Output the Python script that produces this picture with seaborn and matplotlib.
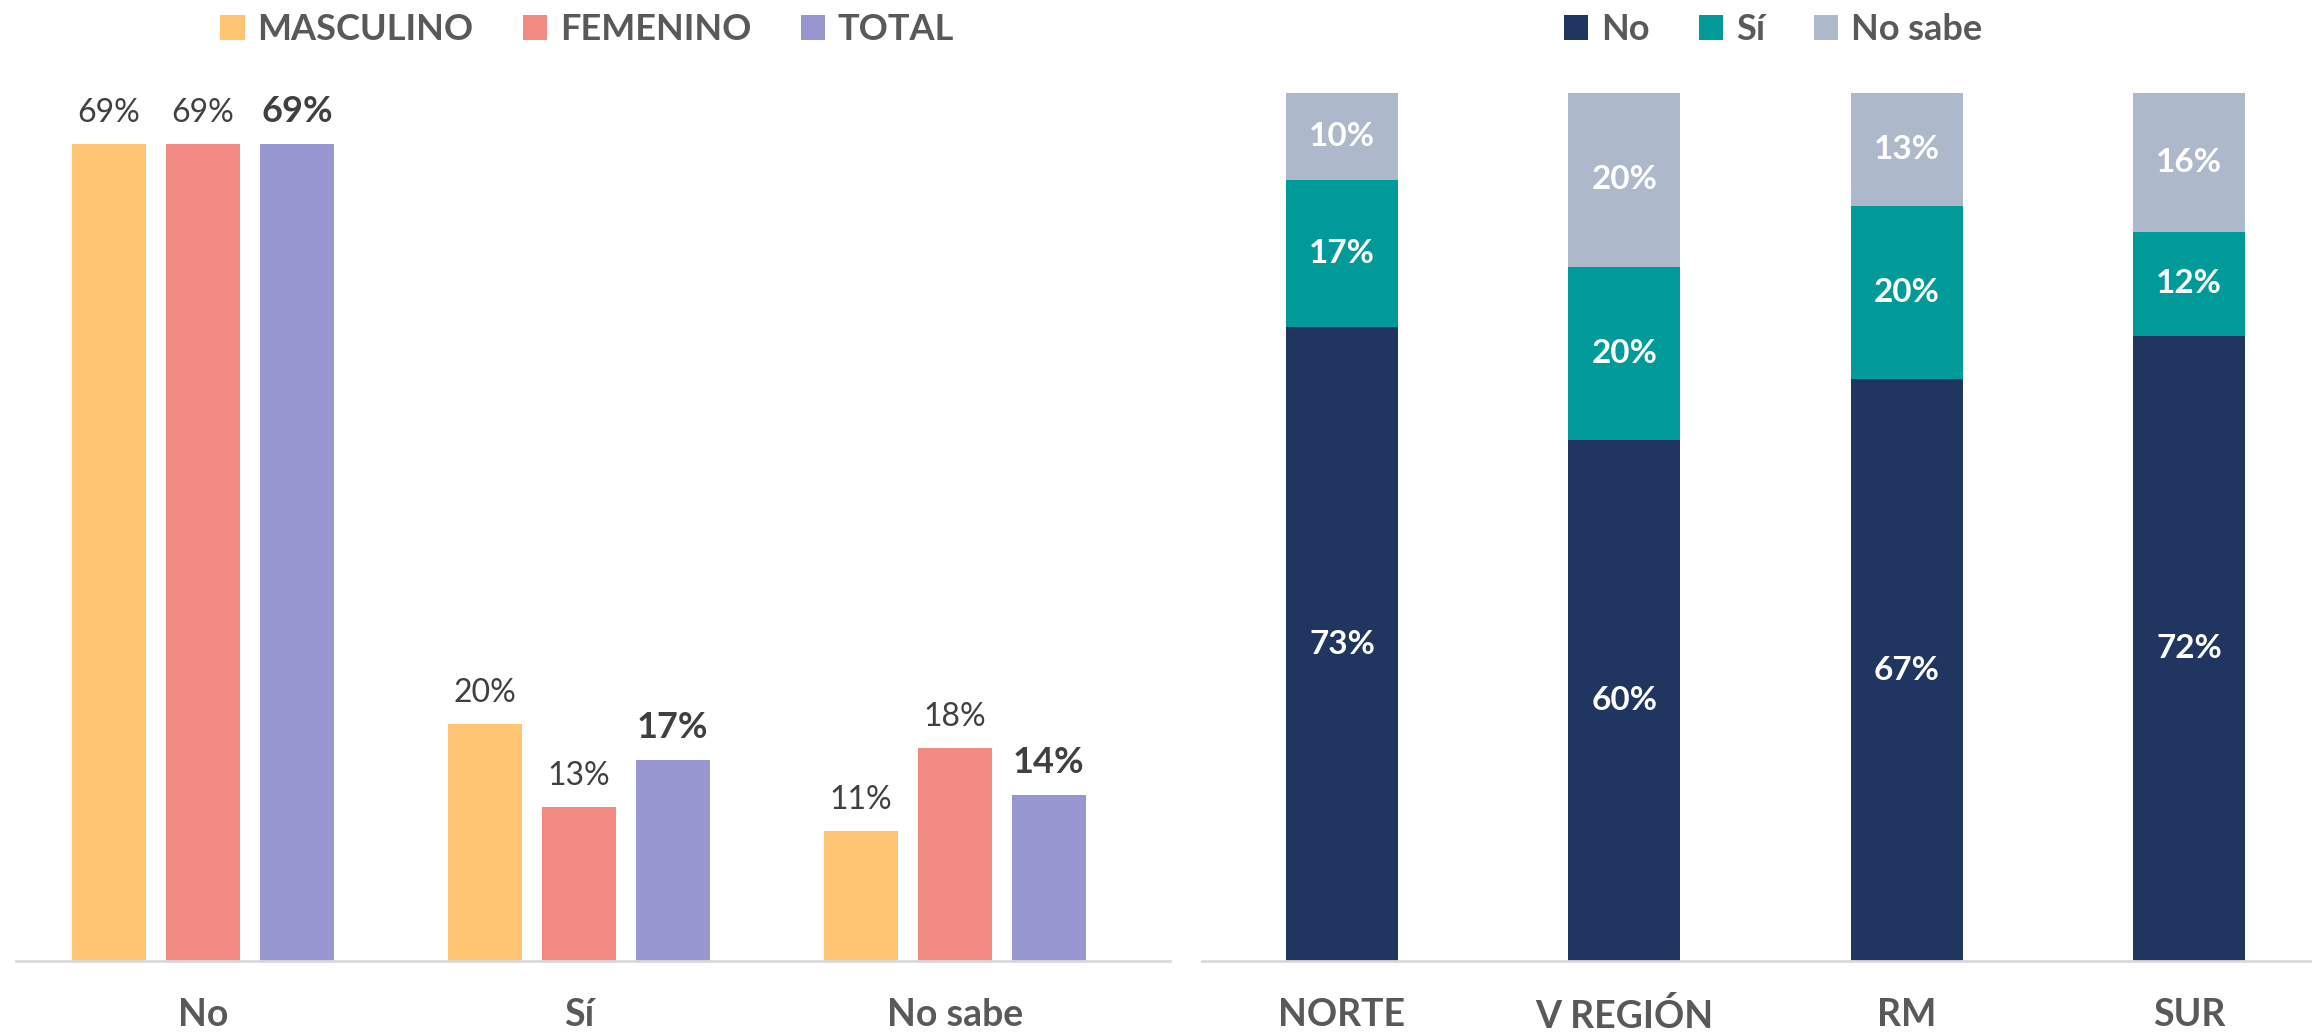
import matplotlib
matplotlib.use("Agg")
import matplotlib.pyplot as plt
from matplotlib.patches import Patch
import seaborn as sns
import pandas as pd
import numpy as np

# ==========================================================
# Data
# ==========================================================

respuestas = ["No", "Sí", "No sabe"]
generos = ["MASCULINO", "FEMENINO", "TOTAL"]
masculino = [69, 20, 11]
femenino = [69, 13, 18]
total = [69, 17, 14]

zonas = ["NORTE", "V REGIÓN", "RM", "SUR"]
series_zona = ["No", "Sí", "No sabe"]
zona_no = [73, 60, 67, 72]
zona_si = [17, 20, 20, 12]
zona_no_sabe = [10, 20, 13, 16]

colores_genero = ["#FFC472", "#F08A83", "#9796D0"]
colores_zona = ["#203560", "#009B98", "#ADB8CA"]

gris_texto = "#595959"
gris_valor = "#404040"
gris_eje = "#D9D9D9"

# ==========================================================
# Style
# ==========================================================

sns.set_style("white")
plt.rcParams["font.family"] = ["Lato", "DejaVu Sans"]

fig = plt.figure(figsize=(23.12, 10.36), dpi=100)

ax1 = fig.add_axes([0.0069, 0.0724, 0.4991, 0.8311])
ax2 = fig.add_axes([0.5199, 0.0724, 0.4801, 0.8379])

# ==========================================================
# Left chart: grouped bars
# ==========================================================

df_genero = pd.DataFrame({
    "respuesta": respuestas * 3,
    "genero": np.repeat(generos, 3),
    "valor": masculino + femenino + total,
})

sns.barplot(
    data=df_genero, x="respuesta", y="valor", hue="genero",
    order=respuestas, hue_order=generos, palette=colores_genero,
    width=0.75, gap=0.21, saturation=1, errorbar=None,
    linewidth=0, legend=False, ax=ax1
)

for i, cont in enumerate(ax1.containers):
    es_total = (i == 2)
    for bar in cont:
        h = bar.get_height()
        ax1.annotate(
            "{:.0f}%".format(h),
            (bar.get_x() + bar.get_width() / 2, h),
            xytext=(0, 16), textcoords="offset points",
            ha="center", va="baseline",
            fontsize=26 if es_total else 23,
            fontweight="bold" if es_total else "normal",
            color=gris_valor
        )

ax1.set_xlim(-0.497, 2.572)
ax1.set_ylim(0, 72.76)

# ==========================================================
# Right chart: stacked bars
# ==========================================================

base_si = np.array(zona_no)
base_ns = base_si + np.array(zona_si)
tope = base_ns + np.array(zona_no_sabe)

for alturas, color in zip([tope, base_ns, base_si], colores_zona[::-1]):
    sns.barplot(
        x=zonas, y=alturas, order=zonas, color=color,
        width=0.397, saturation=1, errorbar=None,
        linewidth=0, ax=ax2
    )

bases = [np.zeros(4), base_si, base_ns]
valores = [zona_no, zona_si, zona_no_sabe]
for base, vals in zip(bases, valores):
    for j, v in enumerate(vals):
        ax2.text(
            j, base[j] + v / 2, "{}%".format(v),
            ha="center", va="center",
            fontsize=24, fontweight="bold", color="white"
        )

ax2.set_xlim(-0.496, 3.436)
ax2.set_ylim(0, 100)

# ==========================================================
# Axes styling
# ==========================================================

for ax in [ax1, ax2]:
    ax.set_xlabel("")
    ax.set_ylabel("")
    ax.set_yticks([])
    for s in ["left", "top", "right"]:
        ax.spines[s].set_visible(False)
    ax.spines["bottom"].set_color(gris_eje)
    ax.spines["bottom"].set_linewidth(2)
    ax.tick_params(axis="x", length=0, pad=27, labelsize=27,
                   labelcolor=gris_texto)
    for lab in ax.get_xticklabels():
        lab.set_fontweight("bold")

# ==========================================================
# Legends
# ==========================================================

def leyenda(etiquetas, colores, x):
    handles = [Patch(facecolor=c, edgecolor="none") for c in colores]
    leg = fig.legend(
        handles, etiquetas, loc="center", bbox_to_anchor=(x, 0.9715),
        ncol=len(etiquetas), frameon=False, fontsize=26,
        handlelength=0.67, handleheight=0.67,
        handletextpad=0.36, columnspacing=1.36
    )
    for t in leg.get_texts():
        t.set_color(gris_texto)
        t.set_fontweight("bold")

leyenda(generos, colores_genero, 0.254)
leyenda(series_zona, colores_zona, 0.767)

fig.savefig("out.png", dpi=100, facecolor="white")
